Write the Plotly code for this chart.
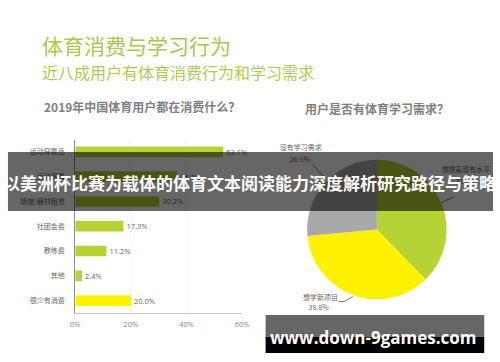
import math
import plotly.graph_objects as go

W, H = 500, 362

# ---------------- data ----------------
title_main = "体育消费与学习行为"
title_sub = "近八成用户有体育消费行为和学习需求"
bar_title = "2019年中国体育用户都在消费什么？"
pie_title = "用户是否有体育学习需求？"
banner_text = "以美洲杯比赛为载体的体育文本阅读能力深度解析研究路径与策略"
watermark = "www.down-9games.com"

bar_categories = ["运动穿戴品", "运动器具", "场馆/器材租赁", "社团会费", "教练费", "其他", "很少有消费"]
bar_values = [53.1, 36.6, 30.2, 17.3, 11.2, 2.4, 20.0]
x_ticks = [0, 20, 40, 60]
x_tick_labels = ["0%", "20%", "40%", "60%"]

pie_labels = ["想提高现有水平", "想学新项目", "没有学习需求"]
pie_values = [37.7, 35.8, 26.5]

# ---------------- style ----------------
GREEN = "#b5d334"
YELLOW = "#fff200"
GRAY = "#a9a9a9"
bar_colors = [GREEN] * 6 + [YELLOW]
pie_colors = [GREEN, YELLOW, GRAY]

CJK = "Noto Sans CJK SC, Noto Sans, sans-serif"

def px(x):
    return x / W

def py(y):
    return 1 - y / H

# pie geometry (pixels)
cx, cy, r = 381, 229.5, 71.5
# label layout offsets relative to the slice tip (pixels): label, pct, leader points
pie_label_layout = [
    dict(lab=(25, -32), pct=(25, -20), line=[(13, -6), (0, 0)]),
    dict(lab=(-33, 2), pct=(-35, 12), line=[(-15, 5), (-9, 5), (0, 0)]),
    dict(lab=(-25, -33), pct=(-26, -21), line=[(-13, -17), (0, -3)]),
]

fig = go.Figure()

fig.add_trace(go.Bar(
    x=bar_values, y=bar_categories, orientation="h",
    marker=dict(color=bar_colors, line=dict(width=0)),
    texttemplate="%{x:.1f}%", textposition="outside", cliponaxis=False,
    constraintext="none",
    textfont=dict(size=7.5, color="#666666", family="Open Sans, Noto Sans, sans-serif"),
    hoverinfo="skip", showlegend=False,
    xaxis="x", yaxis="y",
))

fig.add_trace(go.Pie(
    labels=pie_labels, values=pie_values, sort=False, direction="clockwise",
    rotation=0, textinfo="none", hoverinfo="skip", showlegend=False,
    marker=dict(colors=pie_colors, line=dict(width=0)),
    domain=dict(x=[px(cx - r), px(cx + r)], y=[py(cy + r), py(cy - r)]),
))

# pie labels with leader lines, positioned from the slice mid angles
total = sum(pie_values)
cum = 0
for i, (lab, val) in enumerate(zip(pie_labels, pie_values)):
    mid = (cum + val / 2) / total * 2 * math.pi
    cum += val
    tx = cx + r * math.sin(mid)
    ty = cy - r * math.cos(mid)
    lay = pie_label_layout[i]
    fig.add_trace(go.Scatter(
        x=[tx + dx for dx, dy in lay["line"]], y=[ty + dy for dx, dy in lay["line"]],
        mode="lines", line=dict(color="#555555", width=0.8),
        hoverinfo="skip", showlegend=False, xaxis="x2", yaxis="y2",
    ))
    fig.add_trace(go.Scatter(
        x=[tx + lay["lab"][0], tx + lay["pct"][0]],
        y=[ty + lay["lab"][1], ty + lay["pct"][1]],
        mode="text", text=[lab, f"{val:.1f}%"], textposition="middle center",
        textfont=dict(size=7, color="#666666", family=CJK),
        hoverinfo="skip", showlegend=False, xaxis="x2", yaxis="y2",
    ))

fig.update_layout(
    width=W, height=H, margin=dict(l=0, r=0, t=0, b=0),
    paper_bgcolor="white", plot_bgcolor="rgba(0,0,0,0)",
    font=dict(family=CJK),
    bargap=0.57,
    xaxis=dict(
        domain=[px(72), px(243)], range=[0, 60], tickvals=x_ticks, ticktext=x_tick_labels,
        showline=True, linecolor="#c8c8c8", linewidth=1, showgrid=True, gridcolor="#f4f4f4",
        zeroline=False, ticks="", ticklabelstandoff=4,
        tickfont=dict(size=7.5, color="#888888", family="Open Sans, Noto Sans, sans-serif"),
        fixedrange=True, anchor="y",
    ),
    yaxis=dict(
        domain=[py(313), py(139.5)], autorange="reversed",
        showline=True, linecolor="#8c8c8c", linewidth=1, showgrid=False,
        ticks="", ticklabelstandoff=8,
        tickfont=dict(size=7, color="#666666", family=CJK),
        fixedrange=True, anchor="x",
    ),
    xaxis2=dict(domain=[0, 1], range=[0, W], visible=False, fixedrange=True, anchor="y2"),
    yaxis2=dict(domain=[0, 1], range=[H, 0], visible=False, fixedrange=True, anchor="x2"),
    shapes=[
        dict(type="rect", xref="paper", yref="paper", x0=px(3), x1=1, y0=py(211), y1=py(152),
             fillcolor="rgba(0,0,0,0.6)", line=dict(width=0), layer="above"),
        dict(type="rect", xref="paper", yref="paper", x0=px(267), x1=px(491), y0=py(337), y1=py(315),
             fillcolor="rgba(0,0,0,0.6)", line=dict(width=0), layer="above"),
        dict(type="rect", xref="paper", yref="paper", x0=px(267), x1=px(491), y0=py(353), y1=py(337),
             fillcolor="#000000", line=dict(width=0), layer="above"),
    ],
    annotations=[
        dict(text=title_main, x=px(36), y=py(45), xref="paper", yref="paper",
             xanchor="left", yanchor="middle", showarrow=False,
             font=dict(size=21, color="#a9c84c", family=CJK)),
        dict(text=title_sub, x=px(36), y=py(72), xref="paper", yref="paper",
             xanchor="left", yanchor="middle", showarrow=False,
             font=dict(size=16, color="#afcb52", family=CJK)),
        dict(text=f"<b>{bar_title}</b>", x=px(140), y=py(107), xref="paper", yref="paper",
             xanchor="center", yanchor="middle", showarrow=False,
             font=dict(size=12, color="#808080", family=CJK)),
        dict(text=f"<b>{pie_title}</b>", x=px(381), y=py(108), xref="paper", yref="paper",
             xanchor="center", yanchor="middle", showarrow=False,
             font=dict(size=12, color="#808080", family=CJK)),
        dict(text=f"<b>{banner_text}</b>", x=px(250), y=py(182), xref="paper", yref="paper",
             xanchor="center", yanchor="middle", showarrow=False,
             font=dict(size=17, color="white", family=CJK)),
        dict(text=f"<b>{watermark}</b>", x=px(378), y=py(337), xref="paper", yref="paper",
             xanchor="center", yanchor="middle", showarrow=False,
             font=dict(size=17, color="white", family="Open Sans, DejaVu Sans, sans-serif")),
    ],
)

fig.write_html("out.html")
